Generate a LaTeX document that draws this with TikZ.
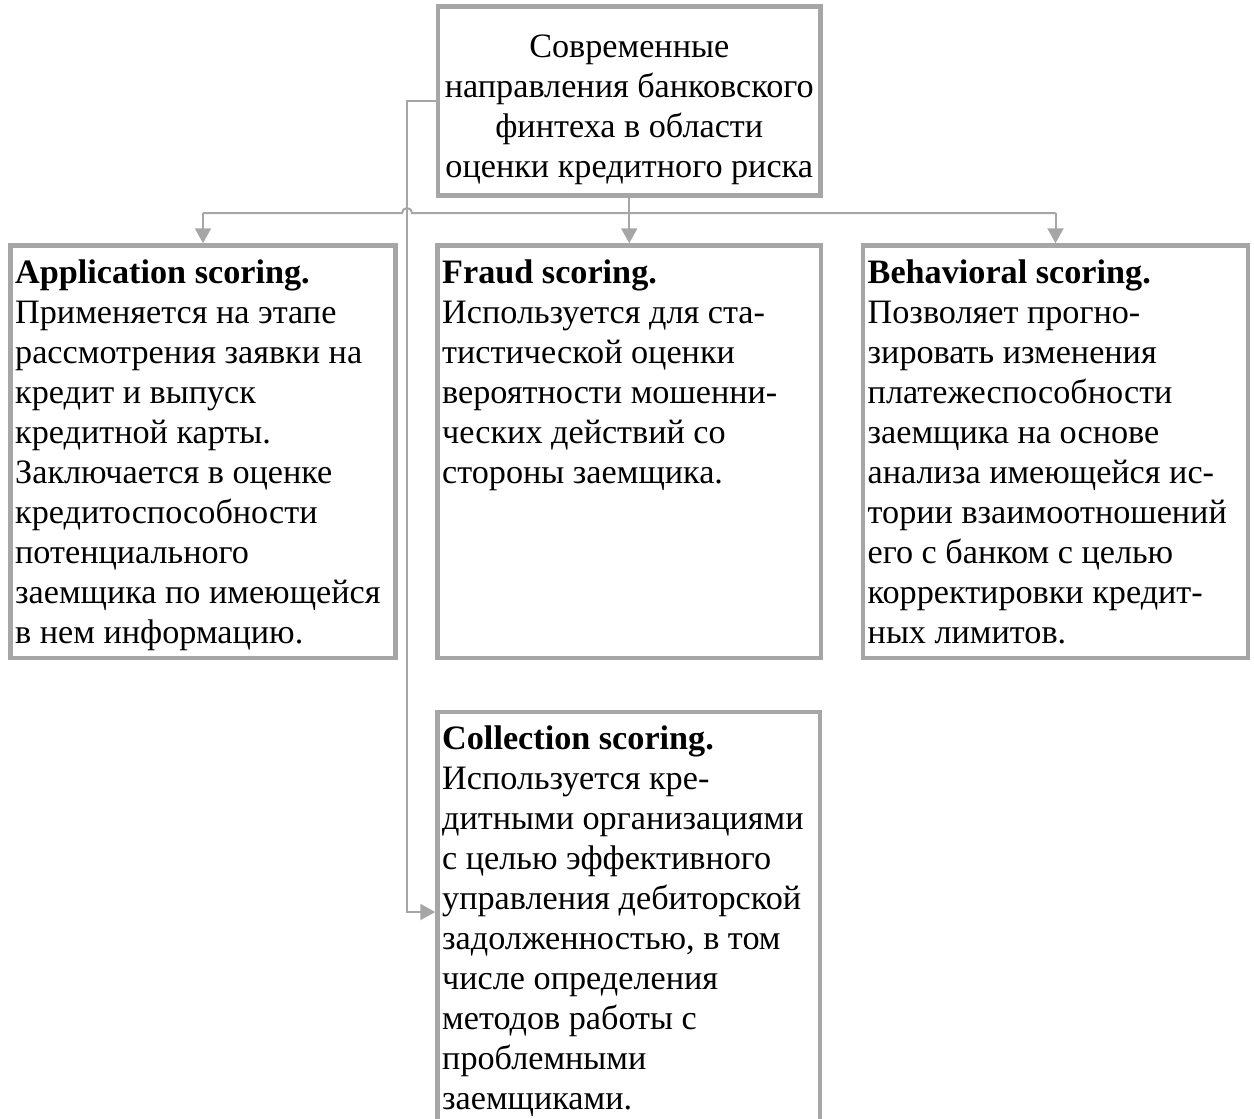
\documentclass[tikz,border=0pt]{standalone}
\usepackage{fontspec}
\setmainfont{Liberation Serif}
\usetikzlibrary{arrows.meta,calc}
\definecolor{bordergray}{HTML}{A6A6A6}
\tikzset{
  box/.style={draw=bordergray,line width=4.5pt,rectangle,inner sep=0pt,fill=none},
  conn/.style={draw=bordergray,line width=2pt},
  tip/.style={-{Triangle[width=16pt,length=15pt,fill=bordergray]}},
  txt/.style={anchor=north west,inner sep=0pt,align=left,font=\fontsize{34.2}{40}\selectfont},
  ctxt/.style={anchor=north,inner sep=0pt,align=center,font=\fontsize{34.2}{40}\selectfont}
}
\begin{document}
\begin{tikzpicture}[x=1pt,y=-1pt]
\useasboundingbox[fill=white] (0,0) rectangle (1254,1119);
% boxes
\node[box,minimum width=382.5pt,minimum height=189pt] (top) at (629.25,101) {};
\node[box,minimum width=385pt,minimum height=412.5pt] (L) at (203,451.75) {};
\node[box,minimum width=383.5pt,minimum height=412.5pt] (M) at (629.25,451.75) {};
\node[box,minimum width=385pt,minimum height=412.5pt] (R) at (1055.5,451.75) {};
\node[box,minimum width=382.5pt,minimum height=460pt] (C) at (628.75,942) {};
% texts
\node[ctxt] (ttop) at (629.25,29) {\strut Современные\\направления банковского\\финтеха в области\\оценки кредитного риска};
\node[txt] (tL) at (15,255) {\strut\textbf{Application scoring.}\\Применяется на этапе\\рассмотрения заявки на\\кредит и выпуск\\кредитной карты.\\Заключается в оценке\\кредитоспособности\\потенциального\\заемщика по имеющейся\\в нем информацию.};
\node[txt] (tM) at (442,255) {\strut\textbf{Fraud scoring.}\\Используется для ста-\\тистической оценки\\вероятности мошенни-\\ческих действий со\\стороны заемщика.};
\node[txt] (tR) at (867.5,255) {\strut\textbf{Behavioral scoring.}\\Позволяет прогно-\\зировать изменения\\платежеспособности\\заемщика на основе\\анализа имеющейся ис-\\тории взаимоотношений\\его с банком с целью\\корректировки кредит-\\ных лимитов.};
\node[txt] (tC) at (442,721) {\strut\textbf{Collection scoring.}\\Используется кре-\\дитными организациями\\с целью эффективного\\управления дебиторской\\задолженностью, в том\\числе определения\\методов работы с\\проблемными\\заемщиками.};
% connectors
\coordinate (bus) at (629.25,213);
\coordinate (jump) at (407,213);
\coordinate (cy) at (0,912);
\draw[conn] (L.north |- bus) -- ($(jump)+(-5,0)$) arc[start angle=180,end angle=0,radius=5pt] -- (R.north |- bus);
\draw[conn,tip] (top.south) -- (M.north);
\draw[conn,tip] (L.north |- bus) -- (L.north);
\draw[conn,tip] (R.north |- bus) -- (R.north);
\draw[conn,tip] (top.west) -| (jump |- cy) -- (C.west |- cy);
\end{tikzpicture}
\end{document}
